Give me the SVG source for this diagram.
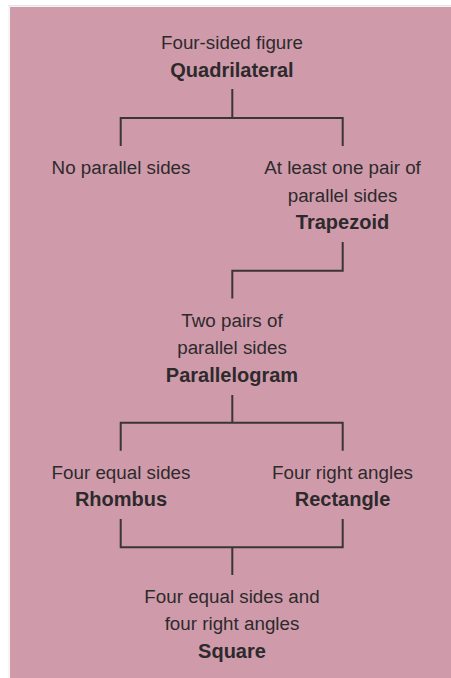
<svg xmlns="http://www.w3.org/2000/svg" width="451" height="678" viewBox="0 0 451 678">
<style>
.t{font-family:"Liberation Sans",Arial,sans-serif;font-size:18.8px;fill:#2e2a2c;text-anchor:middle}
.b{font-family:"Liberation Sans",Arial,sans-serif;font-size:20px;font-weight:bold;fill:#2e2a2c;text-anchor:middle}
.c{fill:none;stroke:#3a3638;stroke-width:2;stroke-linecap:butt;stroke-linejoin:miter}
</style>
<rect x="0" y="0" width="451" height="678" fill="#ffffff"/>
<rect x="8" y="5" width="443" height="1.5" fill="#e6e6e6"/>
<rect x="8.5" y="7" width="1" height="671" fill="#ececec"/>
<rect x="10" y="7" width="441" height="671" fill="#cf9bab"/>
<g id="connectors">
<path class="c" d="M232.3 89V118M120.7 146V118H342.7V146"/>
<path class="c" d="M342.7 242V270.7H232.3V298.5"/>
<path class="c" d="M232.3 395V422.7M120.7 450.7V422.7H342.7V450.7"/>
<path class="c" d="M120.7 519V547.3H342.7V519M232.3 547.3V575"/>
</g>
<g id="quadrilateral">
<text class="t" x="232" y="49">Four-sided figure</text>
<text class="b" x="232" y="77">Quadrilateral</text>
</g>
<g id="no-parallel">
<text class="t" x="121" y="174">No parallel sides</text>
</g>
<g id="trapezoid">
<text class="t" x="342.5" y="174">At least one pair of</text>
<text class="t" x="342.5" y="201.5">parallel sides</text>
<text class="b" x="342.5" y="229">Trapezoid</text>
</g>
<g id="parallelogram">
<text class="t" x="232" y="326.5">Two pairs of</text>
<text class="t" x="232" y="354">parallel sides</text>
<text class="b" x="232" y="381.5">Parallelogram</text>
</g>
<g id="rhombus">
<text class="t" x="121" y="479">Four equal sides</text>
<text class="b" x="121" y="506">Rhombus</text>
</g>
<g id="rectangle">
<text class="t" x="342.5" y="479">Four right angles</text>
<text class="b" x="342.5" y="506">Rectangle</text>
</g>
<g id="square">
<text class="t" x="232" y="603">Four equal sides and</text>
<text class="t" x="232" y="630">four right angles</text>
<text class="b" x="232" y="657.5">Square</text>
</g>
</svg>
